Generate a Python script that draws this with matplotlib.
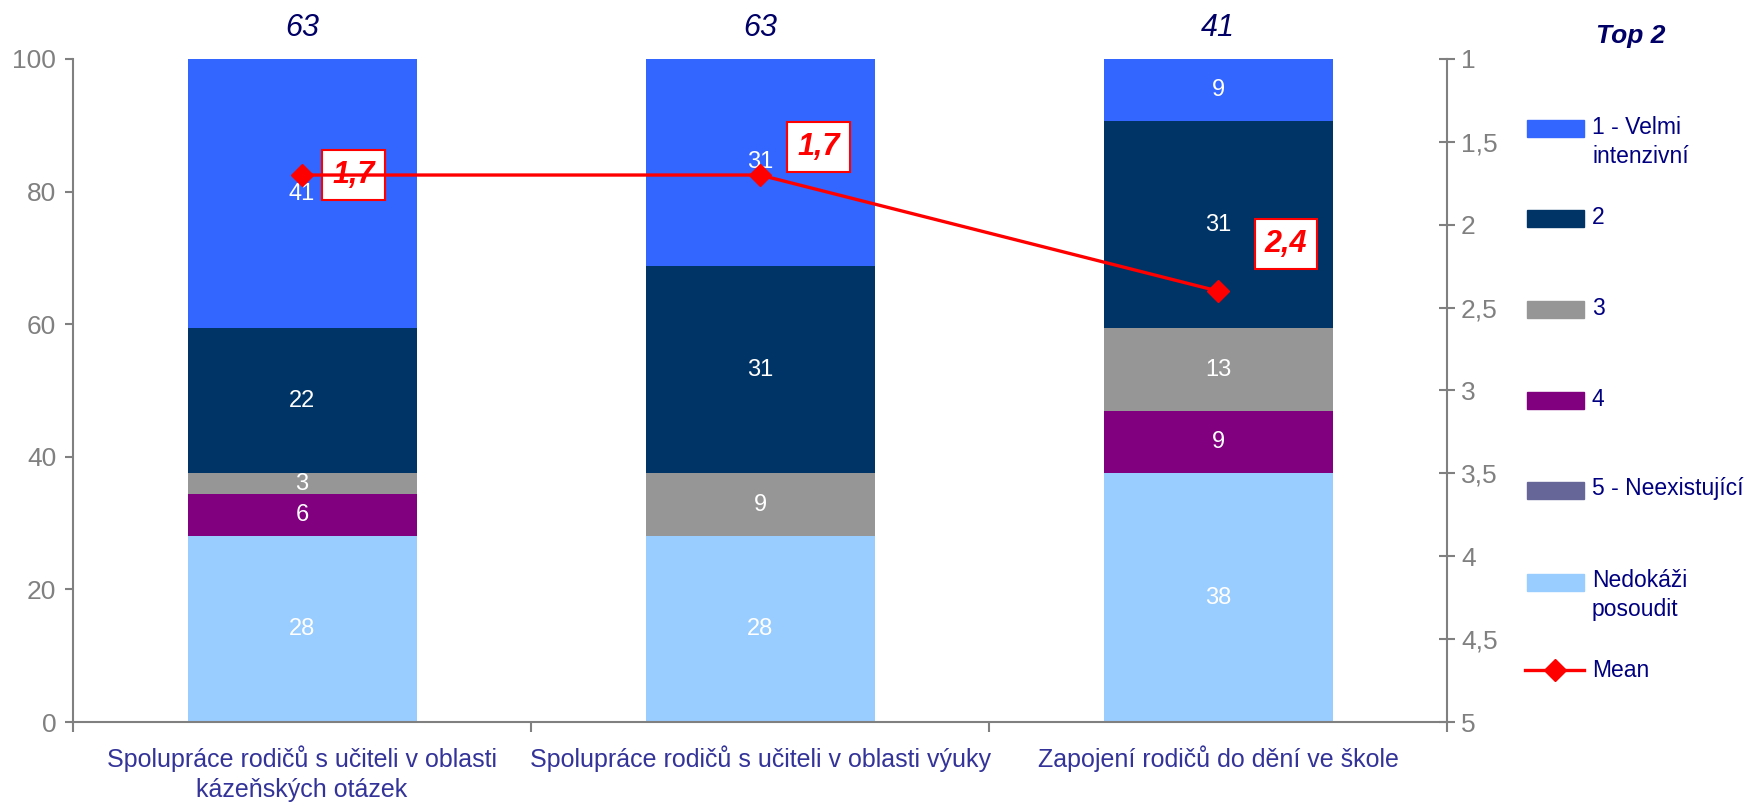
import matplotlib
matplotlib.use('Agg')
import matplotlib.pyplot as plt
from matplotlib.patches import Rectangle
from matplotlib.lines import Line2D

plt.rcParams['font.family'] = ['Liberation Sans', 'DejaVu Sans']

# data
categories = ['Spolupráce rodičů s učiteli v oblasti\nkázeňských otázek',
              'Spolupráce rodičů s učiteli v oblasti výuky',
              'Zapojení rodičů do dění ve škole']
# stacked from the bottom up
nedokazi = [28.1, 28.1, 37.5]
neexist = [0, 0, 0]
c4 = [6.3, 0, 9.4]
c3 = [3.1, 9.4, 12.5]
c2 = [21.9, 31.3, 31.2]
c1 = [40.6, 31.2, 9.4]
top2 = [63, 63, 41]
means = [1.7, 1.7, 2.4]
mean_labels = ['1,7', '1,7', '2,4']
right_ticks = [1, 1.5, 2, 2.5, 3, 3.5, 4, 4.5, 5]

series = [(nedokazi, '#99CCFF', 'Nedokáži\nposoudit'),
          (neexist, '#666699', '5 - Neexistující'),
          (c4, '#800080', '4'),
          (c3, '#969696', '3'),
          (c2, '#003366', '2'),
          (c1, '#3366FF', '1 - Velmi\nintenzivní')]

W, H = 1763, 805
fig = plt.figure(figsize=(W / 100, H / 100), dpi=100)
ax = fig.add_axes([73 / W, 1 - 722 / H, (1447 - 73) / W, (722 - 59) / H])

gray = '#808080'
navy = '#000080'
x = list(range(len(categories)))
bottom = [0] * len(categories)
for vals, col, lab in series:
    ax.bar(x, vals, 0.5, bottom=bottom, color=col, zorder=2)
    for i, v in enumerate(vals):
        if v > 0:
            ax.text(i, bottom[i] + v / 2, str(int(v + 0.5)), ha='center', va='center',
                    color='white', fontsize=17, zorder=3)
    bottom = [b + v for b, v in zip(bottom, vals)]

for i, t in enumerate(top2):
    ax.annotate(str(t), (i, 100), xytext=(0, 22), textcoords='offset points',
                ha='center', va='center', fontsize=22, style='italic', color='#000066',
                annotation_clip=False)

ax.set_xlim(-0.5, 2.5)
ax.set_ylim(0, 100)
ax.set_yticks(range(0, 101, 20))
ax.set_xticks(x)
ax.set_xticklabels(categories, fontsize=18, color='#333399', linespacing=1.3)
ax.set_xticks([-0.5, 0.5, 1.5, 2.5], minor=True)
ax.tick_params(axis='x', which='major', length=0, pad=17)
ax.tick_params(axis='x', which='minor', length=7, width=1.5, color=gray)
ax.tick_params(axis='y', length=6, width=1.5, color=gray, labelcolor=gray,
               labelsize=19, pad=6)
for s in ['top', 'right']:
    ax.spines[s].set_visible(False)
for s in ['left', 'bottom']:
    ax.spines[s].set_color(gray)
    ax.spines[s].set_linewidth(1.5)

ax2 = ax.twinx()
ax2.set_ylim(5, 1)
ax2.set_yticks(right_ticks)
ax2.set_yticklabels([f'{t:g}'.replace('.', ',') for t in right_ticks])
ax2.tick_params(axis='y', direction='inout', length=12, width=1.5, color=gray,
                labelcolor=gray, labelsize=19, pad=4)
for s in ['top', 'left', 'bottom']:
    ax2.spines[s].set_visible(False)
ax2.spines['right'].set_color(gray)
ax2.spines['right'].set_linewidth(1.5)

ax2.plot(x, means, color='red', lw=2.4, marker='D', markersize=11, zorder=4)
offsets = [(37, 0), (42, 20), (49, 34)]
for i, (m, lab) in enumerate(zip(means, mean_labels)):
    ax2.annotate(lab, (i, m), xytext=offsets[i], textcoords='offset points',
                 ha='center', va='center', fontsize=22, fontweight='bold',
                 style='italic', color='red',
                 bbox=dict(boxstyle='square,pad=0.33', fc='white', ec='red', lw=1.5))

# legend
fig.text(1631 / W, 1 - 36 / H, 'Top 2', ha='center', va='center', fontsize=19,
         fontweight='bold', style='italic', color='#000066')
rows = [129, 219, 310, 401, 490, 582]
for (vals, col, lab), ry in zip(series[::-1], rows):
    fig.add_artist(Rectangle((1527 / W, 1 - (ry + 8.5) / H), 57 / W, 17 / H,
                             transform=fig.transFigure, color=col))
    fig.text(1592 / W, 1 - (ry - 13) / H, lab, ha='left', va='top', fontsize=16.5,
             color=navy, linespacing=1.35)
fig.add_artist(Line2D([1525 / W, 1584 / W], [1 - 670 / H, 1 - 670 / H],
                      color='red', lw=2.4, transform=fig.transFigure))
fig.add_artist(Line2D([1554.5 / W], [1 - 670 / H], color='red', marker='D',
                      markersize=11, transform=fig.transFigure))
fig.text(1592 / W, 1 - 670 / H, 'Mean', ha='left', va='center', fontsize=16.5,
         color=navy)

fig.savefig('out.png', dpi=100)
